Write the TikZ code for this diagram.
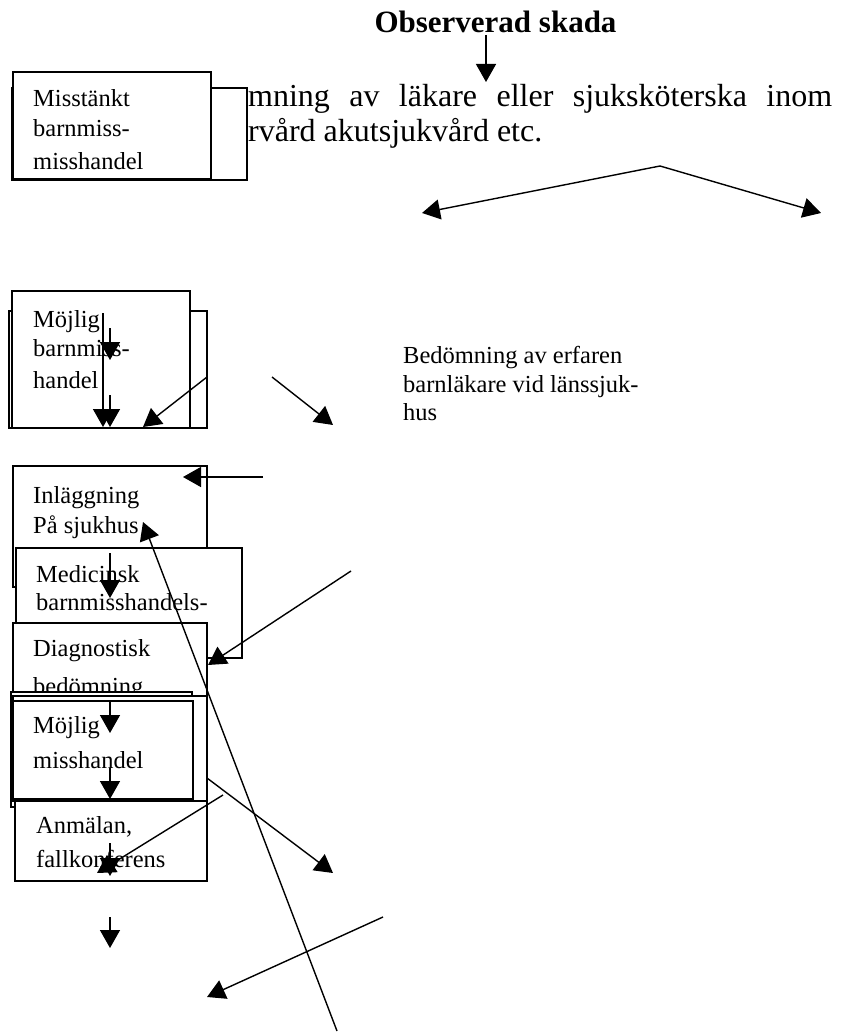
\documentclass[tikz,border=0pt]{standalone}
\usepackage{fontspec}
\setmainfont{Liberation Serif}
\usetikzlibrary{arrows.meta}
\tikzset{
  frame/.style={draw, line width=1.5pt, fill=white, inner sep=0pt, outer sep=0pt, anchor=north west},
  arr/.style={line width=1.4pt, -{Triangle[length=18pt,width=20pt]}},
  btxt/.style={anchor=base west, inner sep=0pt, font=\fontsize{24.5}{30}\selectfont},
  ptxt/.style={anchor=base west, inner sep=0pt, font=\fontsize{32}{35}\selectfont},
}
\begin{document}
\begin{tikzpicture}[x=1pt,y=-1pt]
\useasboundingbox (0,0) rectangle (858,1032);

% title and paragraph
\node[anchor=base, inner sep=0pt, font=\fontsize{31}{36}\selectfont\bfseries] (title) at (495.5,33) {Observerad skada};
\node[ptxt] (p1) at (248,107) {\makebox[584pt][s]{mning av läkare eller sjuksköterska inom}};
\node[ptxt] (p2) at (248,142) {rvård akutsjukvård etc.};

% side text
\node[btxt] (s1) at (403,363) {Bedömning av erfaren};
\node[btxt] (s2) at (403,392) {barnläkare vid länssjuk-};
\node[btxt] (s3) at (403,420) {hus};

% box A
\node[frame, minimum width=235pt, minimum height=92pt] (boxAb) at (12,88) {};
\node[frame, minimum width=198pt, minimum height=107pt] (boxA) at (13,72) {};
\node[btxt] (tA1) at (33,107) {Misstänkt};
\node[btxt] (tA2) at (33,137) {barnmiss-};
\node[btxt] (tA3) at (33,170) {misshandel};

% box B
\node[frame, minimum width=198pt, minimum height=117pt] (boxBb) at (9,311) {};
\node[frame, minimum width=178pt, minimum height=137pt] (boxB) at (12,291) {};
\node[btxt] (tB1) at (33,327) {Möjlig};
\node[btxt] (tB2) at (33,356) {barnmiss-};
\node[btxt] (tB3) at (33,388) {handel};

% box C
\node[frame, minimum width=194pt, minimum height=121pt] (boxC) at (13,466) {};
\node[btxt] (tC1) at (33,503) {Inläggning};
\node[btxt] (tC2) at (33,533) {På sjukhus};

% box D
\node[frame, minimum width=226pt, minimum height=110pt] (boxD) at (16,548) {};
\node[btxt] (tD1) at (36,582) {Medicinsk};
\node[btxt] (tD2) at (36,610) {barnmisshandels-};

% box E
\node[frame, minimum width=194pt, minimum height=80pt] (boxE) at (13,623) {};
\node[btxt] (tE1) at (33,656) {Diagnostisk};
\node[btxt] (tE2) at (33,694) {bedömning};

% box F
\node[frame, minimum width=181pt, minimum height=115pt] (boxF1) at (11,692) {};
\node[frame, minimum width=194pt, minimum height=105pt] (boxF2) at (13,696) {};
\node[frame, minimum width=180pt, minimum height=98pt] (boxF3) at (13,701) {};
\node[btxt] (tF1) at (33,733) {Möjlig};
\node[btxt] (tF2) at (33,768) {misshandel};

% box G
\node[frame, minimum width=192pt, minimum height=80pt] (boxG) at (15,801) {};
\node[btxt] (tG1) at (36,833) {Anmälan,};
\node[btxt] (tG2) at (36,867) {fallkonferens};

% connector end points
\coordinate (c1a) at (486,35);  \coordinate (c1b) at (486,82);
\coordinate (c2a) at (660,166); \coordinate (c2b) at (422,213); \coordinate (c3b) at (821,213);
\coordinate (c4a) at (103,313); \coordinate (c4b) at (103,427);
\coordinate (c5a) at (110,328); \coordinate (c5b) at (110,360);
\coordinate (c6a) at (110,395); \coordinate (c6b) at (110,427);
\coordinate (c7a) at (207,377); \coordinate (c7b) at (143,427);
\coordinate (c8a) at (272,377); \coordinate (c8b) at (333,425);
\coordinate (c9a) at (263,477); \coordinate (c9b) at (183,477);
\coordinate (c10a) at (110,553); \coordinate (c10b) at (110,598);
\coordinate (c11a) at (351,571); \coordinate (c11b) at (208,665);
\coordinate (c12a) at (337,1031); \coordinate (c12b) at (143,522);
\coordinate (c13a) at (110,702); \coordinate (c13b) at (110,733);
\coordinate (c14a) at (110,768); \coordinate (c14b) at (110,799);
\coordinate (c15a) at (207,778); \coordinate (c15b) at (333,873);
\coordinate (c16a) at (223,795); \coordinate (c16b) at (97,873);
\coordinate (c17a) at (110,843); \coordinate (c17b) at (110,876);
\coordinate (c18a) at (110,917); \coordinate (c18b) at (110,948);
\coordinate (c19a) at (383,917); \coordinate (c19b) at (207,997);

% connectors
\draw[arr] (c1a) -- (c1b);
\draw[arr] (c2a) -- (c2b);
\draw[arr] (c2a) -- (c3b);
\draw[arr] (c4a) -- (c4b);
\draw[arr] (c5a) -- (c5b);
\draw[arr] (c6a) -- (c6b);
\draw[arr] (c7a) -- (c7b);
\draw[arr] (c8a) -- (c8b);
\draw[arr] (c9a) -- (c9b);
\draw[arr] (c10a) -- (c10b);
\draw[arr] (c11a) -- (c11b);
\draw[arr] (c12a) -- (c12b);
\draw[arr] (c13a) -- (c13b);
\draw[arr] (c14a) -- (c14b);
\draw[arr] (c15a) -- (c15b);
\draw[arr] (c16a) -- (c16b);
\draw[arr] (c17a) -- (c17b);
\draw[arr] (c18a) -- (c18b);
\draw[arr] (c19a) -- (c19b);
\end{tikzpicture}
\end{document}
